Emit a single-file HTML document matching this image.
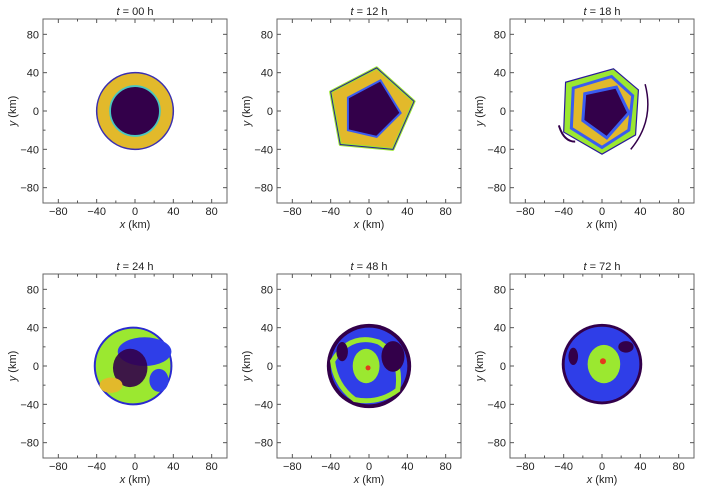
<!DOCTYPE html>
<html><head><meta charset="utf-8"><style>
body{margin:0;background:#fff;width:720px;height:492px;overflow:hidden}
svg text{font-family:"Liberation Sans",sans-serif;fill:#222}
</style></head><body>
<svg id="fig" width="720" height="492" xmlns="http://www.w3.org/2000/svg"></svg>
<script>
const panelTitles=["00","12","18","24","48","72"];
const panelCols=[0,1,2,0,1,2];
const panelRows=[0,0,0,1,1,1];
const tickValues=[-80,-60,-40,-20,0,20,40,60,80];
const labelValues=[-80,-40,0,40,80];
const colX=[43,277,510], rowY=[19,274], SIZE=184, RANGE=96;
const NS="http://www.w3.org/2000/svg";
const fig=document.getElementById('fig');
function mk(tag,attrs,parent){const e=document.createElementNS(NS,tag);for(const k in attrs)e.setAttribute(k,attrs[k]);(parent||fig).appendChild(e);return e;}
function poly(pts,sx,sy){return pts.map(p=>sx(p[0])+','+sy(p[1])).join(' ');}
const fields=[
 function(g,sx,sy,s){
  mk('circle',{cx:sx(0),cy:sy(0),r:40*s,fill:'#e2b92b',stroke:'#3a2fb0','stroke-width':1.5},g);
  mk('circle',{cx:sx(0),cy:sy(0),r:26*s,fill:'#33004a',stroke:'#49c6c0','stroke-width':1.8},g);
 },
 function(g,sx,sy,s){
  const outer=[[-40,20],[8,45],[47,10],[25,-40],[-30,-35]];
  mk('polygon',{points:poly(outer,sx,sy),fill:'#e2b92b',stroke:'#9be830','stroke-width':3,'stroke-linejoin':'round'},g);
  mk('polygon',{points:poly(outer,sx,sy),fill:'none',stroke:'#2a1a9a','stroke-width':1},g);
  const inner=[[-22,14],[12,32],[33,-2],[8,-27],[-22,-20]];
  mk('polygon',{points:poly(inner,sx,sy),fill:'#33004a',stroke:'#3a5cf0','stroke-width':2},g);
 },
 function(g,sx,sy,s){
  const outer=[[-38,30],[12,44],[38,22],[35,-25],[0,-45],[-40,-22]];
  mk('polygon',{points:poly(outer,sx,sy),fill:'#9be830',stroke:'#2a1a9a','stroke-width':1.2},g);
  const mid=[[-30,24],[10,36],[32,16],[28,-20],[0,-38],[-32,-18]];
  mk('polygon',{points:poly(mid,sx,sy),fill:'#e2b92b',stroke:'#3a5cf0','stroke-width':3},g);
  const inner=[[-18,18],[15,25],[28,-2],[5,-28],[-20,-10]];
  mk('polygon',{points:poly(inner,sx,sy),fill:'#33004a',stroke:'#3a5cf0','stroke-width':3},g);
  mk('path',{d:`M${sx(45)},${sy(28)} Q${sx(55)},${sy(-10)} ${sx(30)},${sy(-40)}`,fill:'none',stroke:'#33004a','stroke-width':1.5},g);
  mk('path',{d:`M${sx(-45)},${sy(-15)} Q${sx(-40)},${sy(-32)} ${sx(-28)},${sy(-32)}`,fill:'none',stroke:'#33004a','stroke-width':2},g);
 },
 function(g,sx,sy,s){
  mk('circle',{cx:sx(-2),cy:sy(0),r:40*s,fill:'#9be830',stroke:'#2a2ad0','stroke-width':2},g);
  mk('ellipse',{cx:sx(10),cy:sy(15),rx:28*s,ry:15*s,fill:'#2f3ee8'},g);
  mk('ellipse',{cx:sx(-5),cy:sy(-2),rx:18*s,ry:20*s,fill:'#33004a',opacity:0.9},g);
  mk('ellipse',{cx:sx(-25),cy:sy(-20),rx:12*s,ry:8*s,fill:'#e2b92b'},g);
  mk('ellipse',{cx:sx(25),cy:sy(-15),rx:10*s,ry:12*s,fill:'#2f3ee8'},g);
 },
 function(g,sx,sy,s){
  mk('circle',{cx:sx(0),cy:sy(0),r:44*s,fill:'#33004a'},g);
  mk('circle',{cx:sx(0),cy:sy(0),r:40*s,fill:'#2f3ee8'},g);
  mk('path',{d:`M${sx(-38)},${sy(5)} Q${sx(-20)},${sy(35)} ${sx(10)},${sy(25)} Q${sx(35)},${sy(10)} ${sx(30)},${sy(-25)} Q${sx(10)},${sy(-40)} ${sx(-15)},${sy(-35)} Q${sx(-35)},${sy(-20)} ${sx(-38)},${sy(5)}Z`,fill:'none',stroke:'#9be830','stroke-width':5},g);
  mk('ellipse',{cx:sx(-3),cy:sy(0),rx:14*s,ry:18*s,fill:'#9be830'},g);
  mk('ellipse',{cx:sx(25),cy:sy(10),rx:12*s,ry:16*s,fill:'#33004a'},g);
  mk('ellipse',{cx:sx(-28),cy:sy(15),rx:6*s,ry:10*s,fill:'#33004a'},g);
  mk('circle',{cx:sx(-1),cy:sy(-2),r:2.5,fill:'#e33a1c'},g);
 },
 function(g,sx,sy,s){
  mk('circle',{cx:sx(0),cy:sy(2),r:42*s,fill:'#33004a'},g);
  mk('circle',{cx:sx(0),cy:sy(2),r:39*s,fill:'#2f3ee8'},g);
  mk('ellipse',{cx:sx(2),cy:sy(2),rx:17*s,ry:20*s,fill:'#9be830'},g);
  mk('ellipse',{cx:sx(-30),cy:sy(10),rx:5*s,ry:9*s,fill:'#33004a'},g);
  mk('ellipse',{cx:sx(25),cy:sy(20),rx:8*s,ry:6*s,fill:'#33004a'},g);
  mk('circle',{cx:sx(1),cy:sy(5),r:3,fill:'#e33a1c'},g);
 }
];
panelTitles.forEach((t,i)=>{
  const X=colX[panelCols[i]], Y=rowY[panelRows[i]], s=SIZE/(2*RANGE);
  const sx=v=>X+SIZE/2+v*s, sy=v=>Y+SIZE/2-v*s;
  const g=mk('g',{});
  
  
  const cp=mk('clipPath',{id:'cp'+i},g);
  mk('rect',{x:X,y:Y,width:SIZE,height:SIZE},cp);
  const field=mk('g',{'clip-path':'url(#cp'+i+')'},g);
  
  
  fields[i](field,sx,sy,s);
  const fr=mk('rect',{x:X,y:Y,width:SIZE,height:SIZE,fill:'none',stroke:'#666','stroke-width':1},g);
  
  
  tickValues.forEach(v=>{
    const L=(v%40===0)?4:2.5;
    mk('line',{x1:sx(v),x2:sx(v),y1:Y+SIZE,y2:Y+SIZE-L,stroke:'#555'},g);
    mk('line',{x1:sx(v),x2:sx(v),y1:Y,y2:Y+L,stroke:'#555'},g);
    mk('line',{x1:X,x2:X+L,y1:sy(v),y2:sy(v),stroke:'#555'},g);
    mk('line',{x1:X+SIZE,x2:X+SIZE-L,y1:sy(v),y2:sy(v),stroke:'#555'},g);
  });
  labelValues.forEach(v=>{
    const tx=mk('text',{x:sx(v),y:Y+SIZE+12,'text-anchor':'middle','font-size':11},g);
    tx.textContent=String(v).replace('-','\u2212');
    
    
    const ty=mk('text',{x:X-4,y:sy(v)+4,'text-anchor':'end','font-size':11},g);
    ty.textContent=String(v).replace('-','\u2212');
    
    
  });
  const ti=mk('text',{x:X+SIZE/2,y:Y-4,'text-anchor':'middle','font-size':11},g);
  ti.innerHTML='<tspan font-style="italic">t</tspan> = '+t+' h';
  
  
  const xl=mk('text',{x:X+SIZE/2,y:Y+SIZE+25,'text-anchor':'middle','font-size':11},g);
  xl.innerHTML='<tspan font-style="italic">x</tspan> (km)';
  
  
  const yl=mk('text',{x:0,y:0,'text-anchor':'middle','font-size':11,transform:`translate(${X-27},${Y+SIZE/2}) rotate(-90)`},g);
  yl.innerHTML='<tspan font-style="italic">y</tspan> (km)';
  
  
});
</script>
</body></html>
